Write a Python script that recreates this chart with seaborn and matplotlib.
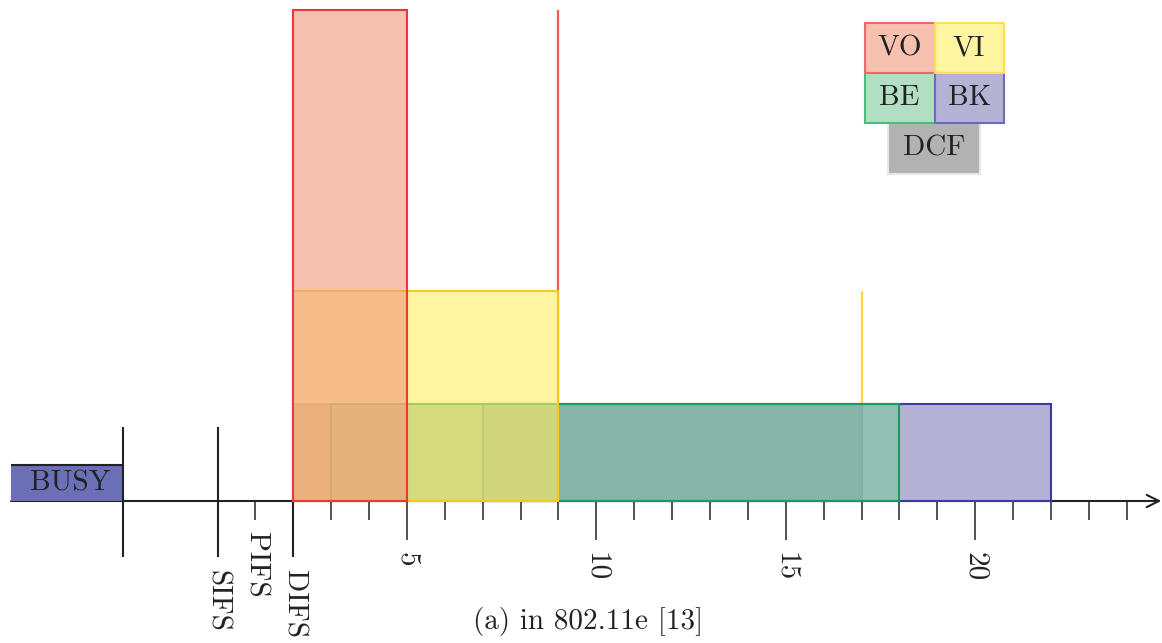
import matplotlib.pyplot as plt
import matplotlib.colors as mcolors
from matplotlib.patches import Rectangle
import seaborn as sns

# access categories, drawn from back to front
cats = ["DCF", "BK", "BE", "VI", "VO"]
starts = [2, 7, 3, 2, 2]
ends = [17, 22, 18, 9, 5]
heights = [1.0, 1.0, 1.0, 2.17, 5.06]

# contention window max markers
cw_x = [9, 17]
cw_h = [5.06, 2.17]

# busy medium
busy_start = -5.45
busy_end = -2.5
busy_h = 0.37

# inter frame spaces
ifs_names = ["SIFS", "PIFS", "DIFS"]
ifs_x = [0, 1, 2]

major_ticks = [5, 10, 15, 20]
minor_ticks = [t for t in range(1, 25) if t not in major_ticks]

fills = {"VO": "#f3987b", "VI": "#ffee61", "BE": "#7fca9d", "BK": "#847fbb", "DCF": "#808080"}
edges = {"VO": "#e83a3a", "VI": "#f5c91e", "BE": "#1f9a5e", "BK": "#3c3ca0", "DCF": "#9a9a9a"}
leg_edges = {"VO": "#ee6a6a", "VI": "#ffdc5a", "BE": "#4cbc7a", "BK": "#6a6abf", "DCF": "#e6e6e6"}
cw_colors = ["#ef5b5b", "#ffd84a"]

sns.set_theme(style="white")
plt.rcParams["font.family"] = ["cmr10", "DejaVu Serif"]
plt.rcParams["axes.formatter.use_mathtext"] = True
plt.rcParams["axes.unicode_minus"] = False

fig = plt.figure(figsize=(11.62, 6.43), dpi=100)
ax = fig.add_axes([0, 0, 1, 1])
ax.set_xlim(-5.742, 24.93)
ax.set_ylim(-1.464, 5.165)
for s in ax.spines.values():
    s.set_visible(False)
ax.spines["bottom"].set_position(("data", 0))
ax.set_yticks([])
ax.grid(False)

# time axis
ax.annotate("", xy=(24.91, 0), xytext=(busy_start, 0),
            arrowprops=dict(arrowstyle="->", lw=1.5, color="#222222",
                            shrinkA=0, shrinkB=0, mutation_scale=22), zorder=1)
ax.set_xticks(major_ticks)
ax.set_xticklabels([str(t) for t in major_ticks], rotation=-90, fontsize=21)
ax.set_xticks(minor_ticks, minor=True)
ax.tick_params(axis="x", which="both", bottom=True, direction="out", colors="#222222",
               width=1.1, labelcolor="#222222")
ax.tick_params(axis="x", which="major", length=28, pad=8.5)
ax.tick_params(axis="x", which="minor", length=13.7)

# busy period
ax.bar(busy_start, busy_h, width=busy_end - busy_start, align="edge",
       color="#6b6fb5", edgecolor="none", zorder=2)
ax.hlines(busy_h, busy_start, busy_end, color="#222222", lw=1.5, zorder=3)
ax.text((busy_start + busy_end) / 2 + 0.08, busy_h / 2, "BUSY", fontsize=21,
        ha="center", va="center", color="#222222", zorder=4)

# IFS markers
ax.vlines([busy_end, ifs_x[0]], -0.577, 0.763, color="#222222", lw=1.5, zorder=3)
ax.vlines(ifs_x[2], -0.577, 0, color="#222222", lw=1.5, zorder=3)
label_top = [-0.71, -0.32, -0.71]
for name, x, yt in zip(ifs_names, ifs_x, label_top):
    ax.text(x, yt, name, rotation=-90, fontsize=21, ha="center", va="top", color="#222222")

# contention window max lines sit under the boxes
ax.vlines(cw_x, 0, cw_h, colors=cw_colors, lw=1.6, zorder=4)

# contention windows
for c, s, e, h in zip(cats, starts, ends, heights):
    ax.bar(s, h, width=e - s, align="edge",
           facecolor=mcolors.to_rgba(fills[c], 0.6), edgecolor=edges[c],
           linewidth=1.5, zorder=5)

# legend boxes
leg_pos = {"VO": (17.08, 4.41, 1.85, 0.52), "VI": (18.93, 4.41, 1.82, 0.52),
           "BE": (17.08, 3.90, 1.85, 0.51), "BK": (18.93, 3.90, 1.82, 0.51),
           "DCF": (17.70, 3.37, 2.42, 0.53)}
for c in ["DCF", "BE", "BK", "VO", "VI"]:
    x, y, w, h = leg_pos[c]
    ax.add_patch(Rectangle((x, y), w, h, facecolor=mcolors.to_rgba(fills[c], 0.6),
                           edgecolor=leg_edges[c], linewidth=1.5, zorder=7))
    ax.text(x + w / 2, y + h / 2, c, fontsize=21, ha="center", va="center",
            color="#222222", zorder=8)

fig.text(0.506, 1 - 622 / 643, "(a) in 802.11e [13]", fontsize=21,
         ha="center", va="center", color="#222222")

fig.savefig("out.png", dpi=100)
